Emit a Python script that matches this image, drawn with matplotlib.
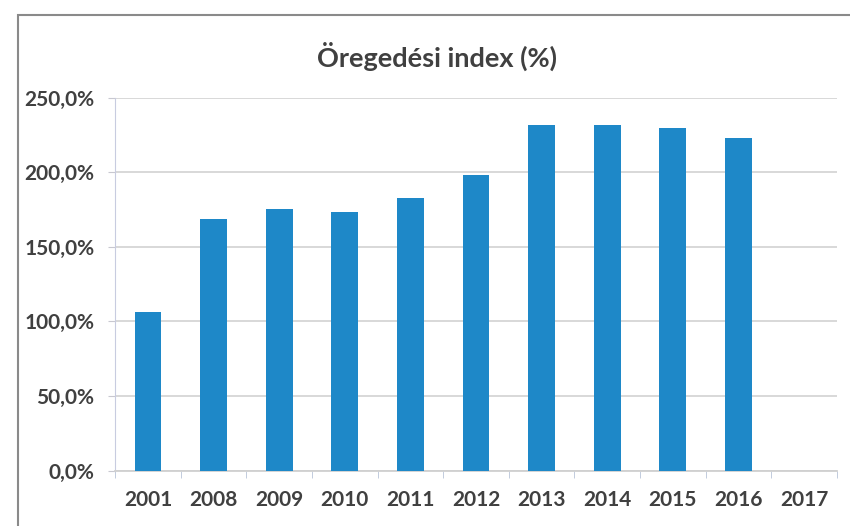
import matplotlib
matplotlib.use("Agg")
import matplotlib.pyplot as plt
from matplotlib.patches import Rectangle
import numpy as np

categories = ["2001", "2008", "2009", "2010", "2011", "2012", "2013", "2014", "2015", "2016", "2017"]
values = [106.5, 168.8, 175.4, 173.2, 182.6, 198.0, 231.6, 231.5, 229.6, 223.2, np.nan]
yticks = [0, 50, 100, 150, 200, 250]
ytick_labels = ["0,0%", "50,0%", "100,0%", "150,0%", "200,0%", "250,0%"]
title = "Öregedési index (%)"

fam = ["Lato", "DejaVu Sans"]
txt = "#404040"

fig = plt.figure(figsize=(8.5, 5.26), dpi=100)
ax = fig.add_axes([0.1355, 0.1055, 0.849, 0.709])

x = np.arange(len(categories))
ax.bar(x, values, width=0.41, color="#1E88C8", zorder=3)

ax.set_xlim(-0.5, len(categories) - 0.5)
ax.set_ylim(0, 250)
ax.set_yticks(yticks)
ax.set_yticklabels(ytick_labels, fontfamily=fam, fontweight="bold", fontsize=15, color=txt)
ax.set_xticks(x)
ax.set_xticklabels(categories, fontfamily=fam, fontweight="bold", fontsize=15, color=txt)
ax.set_xticks(np.arange(-0.5, len(categories), 1), minor=True)
ax.tick_params(axis="x", which="major", length=0, pad=14)
ax.tick_params(axis="x", which="minor", length=5, color="#b8c4d8", direction="out")
ax.tick_params(axis="y", length=5, color="#c8c8d0", pad=10)

ax.grid(axis="y", color="#d6d6d6", linewidth=1.3, zorder=0)
for s in ["top", "right"]:
    ax.spines[s].set_visible(False)
ax.spines["left"].set_color("#c8cce0")
ax.spines["left"].set_linewidth(0.8)
ax.spines["bottom"].set_color("#d0d0d0")
ax.spines["bottom"].set_linewidth(1.3)

fig.text(0.514, 0.892, title, ha="center", va="center", fontfamily=fam,
         fontweight="bold", fontsize=19.5, color=txt)

fig.patches.append(Rectangle((18 / 850, -0.05), 1.1, 1 - 15 / 526 + 0.05,
                             transform=fig.transFigure, fill=False,
                             edgecolor="#8a8a8a", linewidth=1.5))

fig.savefig("out.png", dpi=100)
